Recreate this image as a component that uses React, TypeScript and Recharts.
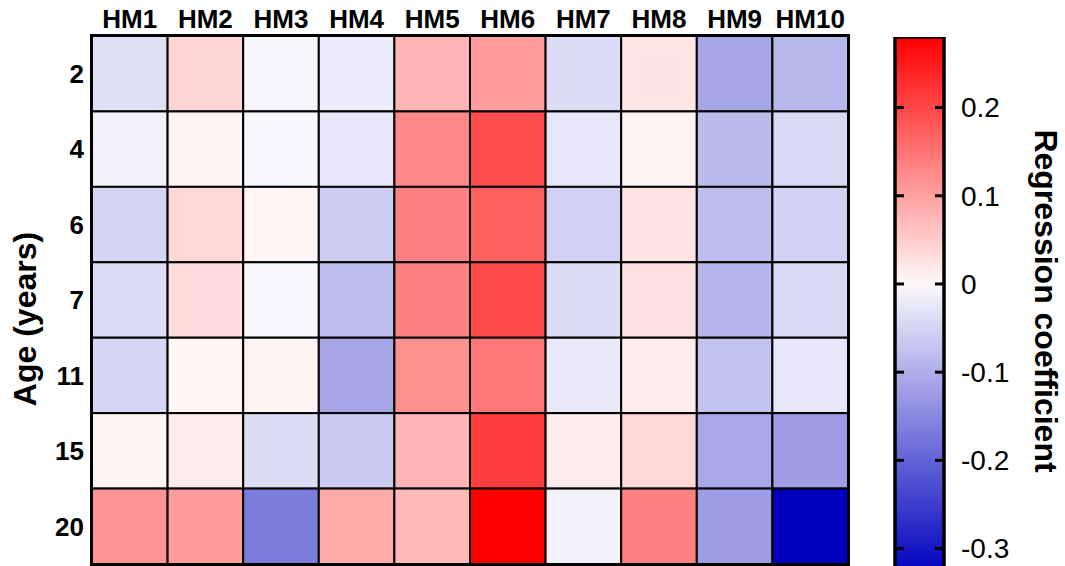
import React from 'react';

import {
  Bar,
  BarChart,
  ReferenceArea,
  Scatter,
  ScatterChart,
  XAxis,
  YAxis,
} from 'recharts';

// column / row labels
const MARKERS = ['HM1', 'HM2', 'HM3', 'HM4', 'HM5', 'HM6', 'HM7', 'HM8', 'HM9', 'HM10'];
const AGES = ['2', '4', '6', '7', '11', '15', '20'];

// regression coefficients, one array per age
const AGE_2 = [-0.036, 0.042, -0.005, -0.018, 0.077, 0.103, -0.039, 0.022, -0.112, -0.088];
const AGE_4 = [-0.01, 0.008, -0.002, -0.027, 0.126, 0.194, -0.027, 0.008, -0.083, -0.044];
const AGE_6 = [-0.05, 0.038, 0.005, -0.06, 0.134, 0.171, -0.054, 0.026, -0.081, -0.054];
const AGE_7 = [-0.04, 0.031, -0.003, -0.081, 0.134, 0.198, -0.04, 0.029, -0.09, -0.043];
const AGE_11 = [-0.047, 0.003, 0.006, -0.112, 0.118, 0.146, -0.023, 0.015, -0.074, -0.027];
const AGE_15 = [0.006, 0.013, -0.04, -0.063, 0.077, 0.211, 0.015, 0.038, -0.108, -0.121];
const AGE_20 = [0.114, 0.103, -0.166, 0.088, 0.072, 0.28, -0.011, 0.134, -0.121, -0.33];
const ROWS = [AGE_2, AGE_4, AGE_6, AGE_7, AGE_11, AGE_15, AGE_20];

// colour scale
const CB_MIN = -0.33;
const CB_MAX = 0.28;
const CB_TICKS = [-0.3, -0.2, -0.1, 0, 0.1, 0.2];
const SCALE_BAR = [{ name: 'scale', range: [CB_MIN, CB_MAX] }];

const FONT = '"Liberation Sans", Arial, sans-serif';
const W = 1065;
const H = 566;
const GRID = { left: 92, right: 848, top: 36, bottom: 564 };
const CELL_W = (GRID.right - GRID.left) / MARKERS.length;
const CELL_H = (GRID.bottom - GRID.top) / AGES.length;
const CB = { left: 895, right: 944, top: 37, height: 600 };

const colorFor = (v: number): string => {
  if (v >= 0) {
    const t = Math.min(v / CB_MAX, 1);
    const g = Math.round(249 * (1 - t));
    return `rgb(255,${g},${g})`;
  }
  const t = Math.min(v / CB_MIN, 1);
  const r = Math.round(250 * (1 - t));
  const b = Math.round(253 - 63 * t);
  return `rgb(${r},${r},${b})`;
};

const cells = ROWS.flatMap((row, ri) =>
  row.map((v, ci) => ({ x: ci + 1, y: ri + 1, v })),
);

const CellShape = (props: any) => {
  const { cx, cy, payload } = props;
  if (cx == null || cy == null) return null;
  return (
    <rect
      x={cx - CELL_W / 2}
      y={cy - CELL_H / 2}
      width={CELL_W}
      height={CELL_H}
      fill={colorFor(payload.v)}
      stroke='#000'
      strokeWidth={2}
    />
  );
};

const ScaleTick = (props: any) => {
  const { y, payload } = props;
  return (
    <g>
      <line x1={CB.left} x2={CB.left + 9} y1={y} y2={y} stroke='#000' strokeWidth={3} />
      <line x1={CB.right - 9} x2={CB.right} y1={y} y2={y} stroke='#000' strokeWidth={3} />
      <text x={961} y={y} dy='0.35em' fontSize={28} fontFamily={FONT} fill='#000'>
        {String(payload.value)}
      </text>
    </g>
  );
};

const gradientStops = Array.from({ length: 25 }, (_, i) => {
  const v = CB_MAX - ((CB_MAX - CB_MIN) * i) / 24;
  return { offset: i / 24, color: colorFor(v) };
});

const App = (): JSX.Element => {
  const tickStyle = { fill: '#000', fontSize: 26, fontWeight: 'bold', fontFamily: FONT };
  return (
    <div
      style={{
        position: 'absolute',
        left: 0,
        top: 0,
        width: W,
        height: H,
        overflow: 'hidden',
        background: '#fff',
      }}
    >
      <div style={{ position: 'absolute', left: 0, top: 0 }}>
        <BarChart
          width={W}
          height={CB.height}
          data={SCALE_BAR}
          margin={{ top: CB.top, right: W - CB.right - 100, bottom: CB.height - 575, left: CB.left }}
          barCategoryGap={0}
        >
          <defs>
            <linearGradient id='cbGrad' x1='0' y1='0' x2='0' y2='1'>
              {gradientStops.map((s) => (
                <stop key={s.offset} offset={s.offset} stopColor={s.color} />
              ))}
            </linearGradient>
          </defs>
          <XAxis dataKey='name' hide />
          <YAxis
            orientation='right'
            type='number'
            domain={[CB_MIN, CB_MAX]}
            ticks={CB_TICKS}
            width={100}
            axisLine={false}
            tickLine={false}
            tick={<ScaleTick />}
            allowDataOverflow
            label={() => (
              <text
                x={1043}
                y={301}
                transform='rotate(90 1043 301)'
                textAnchor='middle'
                dominantBaseline='middle'
                fontSize={32}
                fontWeight='bold'
                fontFamily={FONT}
                fill='#000'
              >
                Regression coefficient
              </text>
            )}
          />
          <Bar
            dataKey='range'
            fill='url(#cbGrad)'
            stroke='#000'
            strokeWidth={3.5}
            isAnimationActive={false}
          />
        </BarChart>
      </div>
      <div style={{ position: 'absolute', left: 0, top: 0 }}>
        <ScatterChart
          width={W}
          height={H}
          margin={{ top: GRID.top - 30, right: W - GRID.right, bottom: H - GRID.bottom, left: GRID.left - 90 }}
        >
          <XAxis
            type='number'
            dataKey='x'
            orientation='top'
            domain={[0.5, MARKERS.length + 0.5]}
            ticks={MARKERS.map((_, i) => i + 1)}
            tickFormatter={(v: number) => MARKERS[v - 1]}
            interval={0}
            height={30}
            axisLine={false}
            tickLine={false}
            tick={tickStyle}
          />
          <YAxis
            type='number'
            dataKey='y'
            reversed
            domain={[0.5, AGES.length + 0.5]}
            ticks={AGES.map((_, i) => i + 1)}
            tickFormatter={(v: number) => AGES[v - 1]}
            interval={0}
            width={90}
            axisLine={false}
            tickLine={false}
            tick={tickStyle}
            label={() => (
              <text
                x={28}
                y={319}
                transform='rotate(-90 28 319)'
                textAnchor='middle'
                dominantBaseline='middle'
                fontSize={32}
                fontWeight='bold'
                fontFamily={FONT}
                fill='#000'
              >
                Age (years)
              </text>
            )}
          />
          <Scatter data={cells} shape={<CellShape />} isAnimationActive={false} />
          <ReferenceArea
            x1={0.5}
            x2={MARKERS.length + 0.5}
            y1={0.5}
            y2={AGES.length + 0.5}
            fill='none'
            stroke='#000'
            strokeWidth={4}
            ifOverflow='visible'
          />
        </ScatterChart>
      </div>
    </div>
  );
};

export default App;
